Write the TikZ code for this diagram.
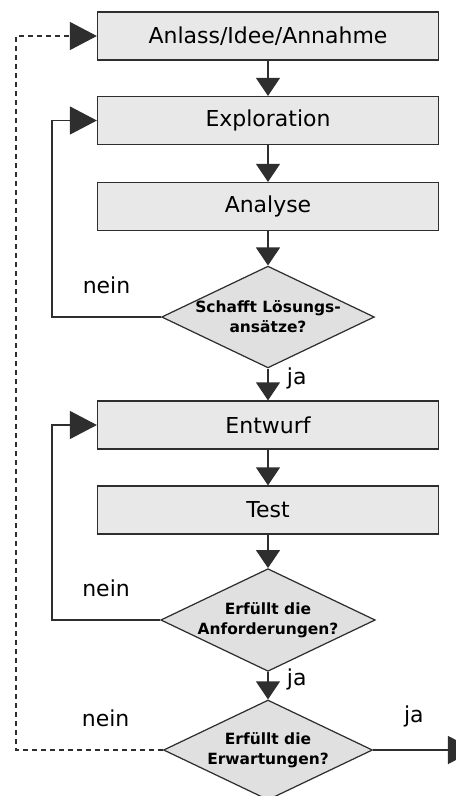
\documentclass[tikz,border=0pt]{standalone}
\usepackage{fontspec}
\setmainfont{DejaVu Sans}
\usetikzlibrary{arrows.meta,positioning,shapes.geometric}
\definecolor{lineGray}{HTML}{2E2E2E}
\definecolor{boxFill}{HTML}{E8E8E8}
\definecolor{checkFill}{HTML}{E0E0E0}

\begin{document}
\begin{tikzpicture}[node distance=1.7cm, on grid, line width=0.7pt]
	\tikzstyle{phase} = [draw=lineGray, fill=boxFill, rectangle, minimum width=6.82cm, minimum height=0.96cm, font={\fontsize{12.5}{15}\selectfont}];
	\tikzstyle{check} = [draw=lineGray, fill=checkFill, diamond, aspect=2.09, inner sep=0pt, minimum width=4.18cm, minimum height=2cm, align=center, font={\fontsize{8.8}{11.4}\selectfont\bfseries}];
	\tikzstyle{flow} = [lineGray, -{Triangle[width=0.48cm,length=0.36cm]}];
	\tikzstyle{back} = [lineGray, -{Triangle[width=0.56cm,length=0.54cm]}];
	\tikzstyle{edgeLabel} = [font={\fontsize{12.5}{15}\selectfont}, text=black];

	\useasboundingbox (-5.36,0.72) rectangle (3.76,-15.2);

	\node[phase] (idee) {Anlass/Idee/Annahme};
	\node[phase, below=1.69cm of idee] (expl) {Exploration};
	\node[phase, below=1.72cm of expl] (anal) {Analyse};
	\node[check, below=2.21cm of anal] (loes) {Schafft Lösungs-\\ansätze?};
	\node[phase, below=2.16cm of loes] (entw) {Entwurf};
	\node[phase, below=1.70cm of entw] (test) {Test};
	\node[check, below=2.20cm of test] (anf) {Erfüllt die\\Anforderungen?};
	\node[check, below=2.60cm of anf] (erw) {Erfüllt die\\Erwartungen?};

	\coordinate (innerLoop) at (-4.32,0);
	\coordinate (outerLoop) at (-5.04,0);
	\coordinate (done) at (4.14,0);

	\path[flow]
	(idee) edge (expl)
	(expl) edge (anal)
	(anal) edge (loes)
	(loes) edge node[edgeLabel, pos=0.3, right=0.25cm] {ja} (entw)
	(entw) edge (test)
	(test) edge (anf)
	(anf) edge node[edgeLabel, pos=0.27, right=0.25cm] {ja} (erw);

	% Schleifen zurueck
	\draw[back] (loes.west) -- node[edgeLabel, above=0.33cm] {nein} (loes.west -| innerLoop) |- (expl.west);
	\draw[back] (anf.west) -- node[edgeLabel, above=0.33cm] {nein} (anf.west -| innerLoop) |- (entw.west);
	\draw[back, dash pattern=on 0.1cm off 0.08cm] (erw.west) -- node[edgeLabel, pos=0.39, above=0.33cm] {nein} (erw.west -| outerLoop) |- (idee.west);
	\draw[back] (erw.east) -- node[edgeLabel, pos=0.4, above=0.33cm] {ja} (erw.east -| done);
\end{tikzpicture}
\end{document}
